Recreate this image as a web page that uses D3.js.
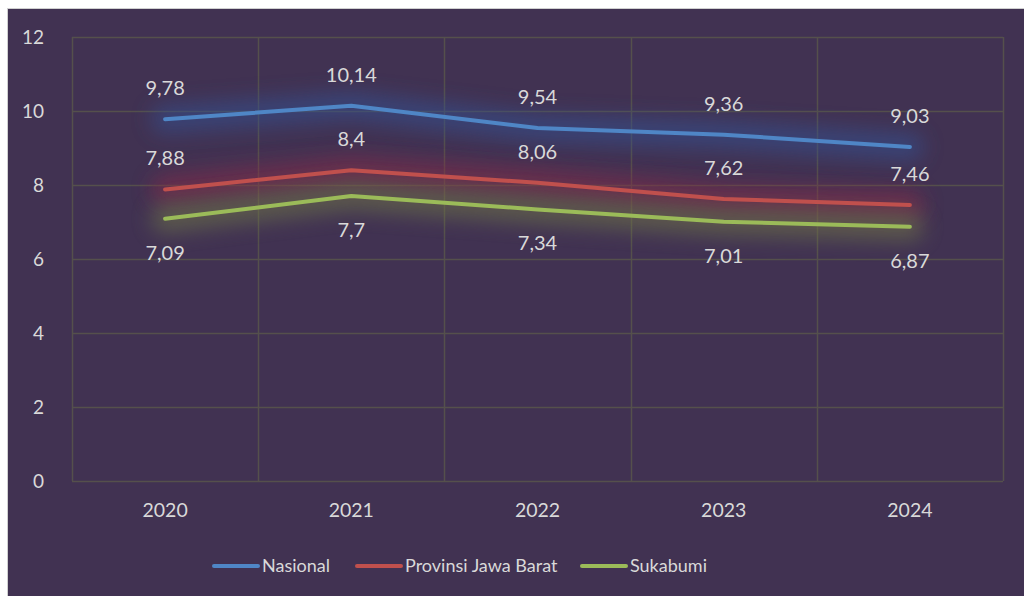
<!DOCTYPE html>
<html>
<head>
<meta charset="utf-8">
<script src="https://cdn.jsdelivr.net/npm/d3@7"></script>
<style>
  body { margin: 0; background: #fff; }
  svg { display: block; font-family: Lato, "Open Sans", sans-serif; }
</style>
</head>
<body>
<svg width="1024" height="596"></svg>
<script>
var years = ['2020', '2021', '2022', '2023', '2024'];
var yTicks = [0, 2, 4, 6, 8, 10, 12];
var nasional = [9.78, 10.14, 9.54, 9.36, 9.03];
var jabar = [7.88, 8.4, 8.06, 7.62, 7.46];
var sukabumi = [7.09, 7.7, 7.34, 7.01, 6.87];
var seriesNames = ['Nasional', 'Provinsi Jawa Barat', 'Sukabumi'];

var series = [
  { name: seriesNames[0], values: nasional, color: '#4f86c6', glow: '#34508f', labelDy: -24 },
  { name: seriesNames[1], values: jabar, color: '#c0504d', glow: '#85294a', labelDy: -24 },
  { name: seriesNames[2], values: sukabumi, color: '#9bbb59', glow: '#6d7548', labelDy: 41 }
];

var svg = d3.select('svg'),
    margin = { left: 72, right: 21, top: 37, bottom: 115 },
    width = 1024 - margin.left - margin.right,
    height = 596 - margin.top - margin.bottom;

// chart background with thin light border
svg.append('rect')
    .attr('x', 7.5).attr('y', 8.5)
    .attr('width', 1030).attr('height', 600)
    .attr('fill', '#413252')
    .attr('stroke', '#d0d0d0')
    .attr('stroke-width', 1);

var defs = svg.append('defs');
defs.append('filter')
    .attr('id', 'glow')
    .attr('x', '-20%').attr('y', '-400%')
    .attr('width', '140%').attr('height', '900%')
  .append('feGaussianBlur')
    .attr('stdDeviation', 10);

var g = svg.append('g').attr('transform', 'translate(' + margin.left + ',' + margin.top + ')');

var x = d3.scaleBand().domain(years).range([0, width]);
var y = d3.scaleLinear().domain([0, 12]).range([height, 0]);

// horizontal gridlines
g.append('g')
  .selectAll('line')
  .data(yTicks)
  .enter().append('line')
    .attr('x1', 0).attr('x2', width)
    .attr('y1', function(d) { return Math.round(y(d)) + 0.5; })
    .attr('y2', function(d) { return Math.round(y(d)) + 0.5; })
    .attr('stroke', '#55504c')
    .attr('stroke-width', 1.5);

// vertical gridlines at category boundaries
var bounds = years.map(function(d) { return x(d); }).concat([width]);
g.append('g')
  .selectAll('line')
  .data(bounds)
  .enter().append('line')
    .attr('x1', function(d) { return Math.round(d) + 0.5; })
    .attr('x2', function(d) { return Math.round(d) + 0.5; })
    .attr('y1', 0).attr('y2', height)
    .attr('stroke', '#55504c')
    .attr('stroke-width', 1.5);

// y axis labels
var yAxis = g.append('g')
    .call(d3.axisLeft(y).tickValues(yTicks).tickSize(0).tickPadding(28));
yAxis.select('.domain').remove();
yAxis.selectAll('text')
    .attr('fill', '#d9d9d9')
    .style('font-size', '19px')
    .style('font-family', 'Lato, "Open Sans", sans-serif');

// x axis labels
var xAxis = g.append('g')
    .attr('transform', 'translate(0,' + height + ')')
    .call(d3.axisBottom(x).tickSize(0).tickPadding(22));
xAxis.select('.domain').remove();
xAxis.selectAll('text')
    .attr('fill', '#d9d9d9')
    .style('font-size', '19.5px')
    .style('font-family', 'Lato, "Open Sans", sans-serif');

var line = d3.line()
    .x(function(d, i) { return x(years[i]) + x.bandwidth() / 2; })
    .y(function(d) { return y(d); });

// soft glow behind each line
series.forEach(function(s) {
  g.append('path')
      .datum(s.values)
      .attr('d', line)
      .attr('fill', 'none')
      .attr('stroke', s.glow)
      .attr('stroke-width', 28)
      .attr('stroke-linecap', 'round')
      .attr('stroke-linejoin', 'round')
      .attr('opacity', 0.6)
      .attr('filter', 'url(#glow)');
});

series.forEach(function(s) {
  g.append('path')
      .datum(s.values)
      .attr('d', line)
      .attr('fill', 'none')
      .attr('stroke', s.color)
      .attr('stroke-width', 4)
      .attr('stroke-linecap', 'round')
      .attr('stroke-linejoin', 'round');
});

// data labels
series.forEach(function(s) {
  g.append('g')
    .selectAll('text')
    .data(s.values)
    .enter().append('text')
      .attr('x', function(d, i) { return x(years[i]) + x.bandwidth() / 2; })
      .attr('y', function(d) { return y(d) + s.labelDy; })
      .attr('text-anchor', 'middle')
      .attr('fill', '#d9d9d9')
      .style('font-size', '20px')
      .text(function(d) { return String(d).replace('.', ','); });
});

// legend
var legendX = [214, 357, 582];
var legend = svg.append('g').attr('transform', 'translate(0,566)');
series.forEach(function(s, i) {
  var item = legend.append('g').attr('transform', 'translate(' + legendX[i] + ',0)');
  item.append('line')
      .attr('x1', 0).attr('x2', 44)
      .attr('stroke', s.color)
      .attr('stroke-width', 4)
      .attr('stroke-linecap', 'round');
  item.append('text')
      .attr('x', 48).attr('dy', '0.35em')
      .attr('fill', '#d9d9d9')
      .style('font-size', '18px')
      .text(s.name);
});
</script>
</body>
</html>
